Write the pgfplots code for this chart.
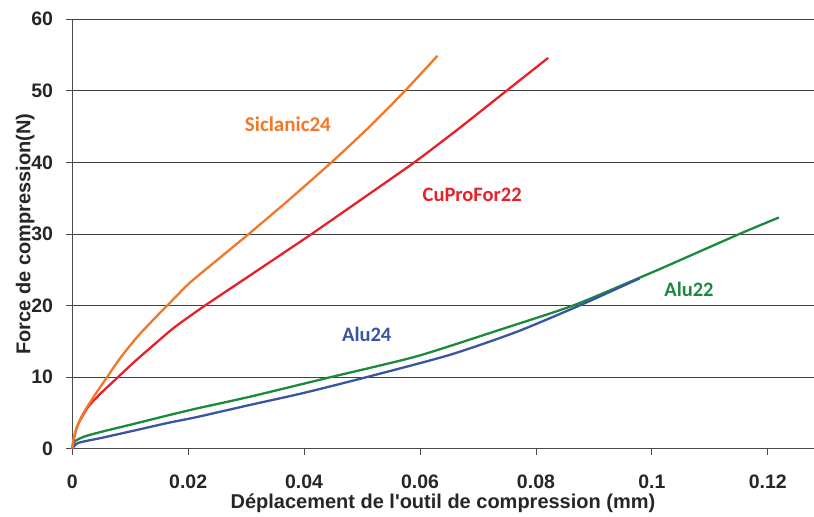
\documentclass[border=0pt]{standalone}
\usepackage{pgfplots}
\pgfplotsset{compat=1.18}
\usepackage{fontspec}
\setmainfont{Liberation Sans}[Ligatures=TeXOff]
\newfontfamily\calib{Carlito}
\definecolor{corange}{HTML}{F07826}
\definecolor{cred}{HTML}{E8202A}
\definecolor{cgreen}{HTML}{1B8A3E}
\definecolor{cblue}{HTML}{3A54A4}
\begin{document}
\begin{tikzpicture}
\begin{axis}[
  scale only axis,
  width=741.7pt, height=429.6pt,
  xmin=0, xmax=0.1279, ymin=0, ymax=60,
  axis x line*=bottom, axis y line*=left,
  axis line style={black!70, line width=0.8pt},
  xtick={0,0.02,0.04,0.06,0.08,0.1,0.12},
  xticklabels={0,0.02,0.04,0.06,0.08,0.1,0.12},
  ytick={0,10,20,30,40,50,60},
  yticklabels={0,10,20,30,40,50,60},
  tick align=outside, major tick length=6pt,
  tick style={black!70, line width=0.8pt},
  ymajorgrids, grid style={black!75, line width=0.8pt},
  ticklabel style={font=\fontsize{19.5}{22}\selectfont\bfseries, text=black!85},
  xticklabel style={inner sep=0pt, anchor=north, yshift=-20pt},
  yticklabel style={inner sep=0pt, anchor=east, xshift=-13pt},
  xlabel={Déplacement de l'outil de compression (mm)},
  ylabel={Force de compression(N)},
  label style={font=\fontsize{20}{24}\selectfont\bfseries, text=black!85},
  xlabel style={at={(rel axis cs:0.5,-0.128)}, anchor=center},
  ylabel style={at={(rel axis cs:-0.0634,0.5)}, anchor=center},
  every axis plot/.append style={smooth, tension=0.4, line width=2.3pt},
  clip=false,
]
\addplot[cgreen] coordinates {
(0,0)(0.0004,1.0)(0.0021,1.7)(0.0050,2.35)(0.0108,3.5)(0.0165,4.65)(0.0214,5.6)(0.0306,7.25)(0.0444,9.96)(0.0594,12.9)(0.0737,16.6)(0.0864,20.0)(0.0979,23.9)(0.1025,25.5)(0.1151,30.0)(0.1219,32.3)};
\addplot[cblue] coordinates {
(0,0)(0.0010,0.8)(0.0050,1.5)(0.0108,2.55)(0.0165,3.6)(0.0214,4.4)(0.0306,6.1)(0.0400,7.8)(0.0508,10.0)(0.0651,13.1)(0.0766,16.3)(0.0875,20.0)(0.0979,23.8)};
\addplot[cred] coordinates {
(0,0)(0.0003,1.5)(0.0010,3.4)(0.0027,5.8)(0.0050,7.8)(0.0079,10.0)(0.0108,12.2)(0.0142,14.6)(0.0177,17.0)(0.0229,20.0)(0.0301,23.9)(0.0358,27.0)(0.0413,30.0)(0.0500,34.9)(0.0590,40.0)(0.0668,44.8)(0.0749,50.0)(0.0821,54.6)};
\addplot[corange] coordinates {
(0,0)(0.0002,1.3)(0.0007,2.8)(0.0018,4.8)(0.0039,7.5)(0.0060,10.0)(0.0084,12.8)(0.0113,15.7)(0.0142,18.2)(0.0171,20.6)(0.0203,23.2)(0.0255,26.7)(0.0303,29.9)(0.0370,34.5)(0.0447,40.0)(0.0513,45.0)(0.0574,50.0)(0.0630,54.9)};
\node[text=corange, font=\calib\fontsize{21}{24}\selectfont\bfseries] at (axis cs:0.0372,45.4) {Siclanic24};
\node[text=cred, font=\calib\fontsize{20.5}{24}\selectfont\bfseries] at (axis cs:0.0690,35.5) {CuProFor22};
\node[text=cblue, font=\calib\fontsize{20.5}{24}\selectfont\bfseries] at (axis cs:0.0508,16.0) {Alu24};
\node[text=cgreen, font=\calib\fontsize{20.5}{24}\selectfont\bfseries] at (axis cs:0.1064,22.3) {Alu22};
\path ([xshift=-72.3pt,yshift=-66.1pt]rel axis cs:0,0) rectangle ([yshift=19.3pt]rel axis cs:1,1);
\end{axis}
\end{tikzpicture}
\end{document}
